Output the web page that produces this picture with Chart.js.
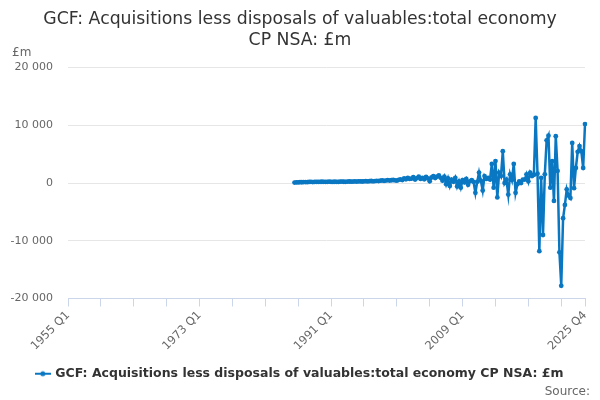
<!DOCTYPE html>
<html>
<head>
<meta charset="utf-8">
<script src="https://cdn.jsdelivr.net/npm/chart.js@4.4.1/dist/chart.umd.min.js"></script>
<style>
html,body{margin:0;padding:0;background:#fff;}
#wrap{width:600px;height:400px;}
</style>
</head>
<body>
<div id="wrap"><canvas id="c" width="600" height="400"></canvas></div>
<script>
// ---- data ----
const firstYear = 1955;
const lastYear = 2025;
const seriesStart = "1986 Q1";
const seriesName = "GCF: Acquisitions less disposals of valuables:total economy CP NSA: £m";
const titleLines = ["GCF: Acquisitions less disposals of valuables:total economy", "CP NSA: £m"];
const yTicks = [-20000, -10000, 0, 10000, 20000];
const xLabelShown = ["1955 Q1", "1973 Q1", "1991 Q1", "2009 Q1", "2025 Q4"];
const values = [
  80, 120, 100, 150, 130, 170, 160, 140, 180, 200, 170, 190, 210, 180, 200, 220,
  200, 190, 210, 230, 200, 180, 220, 210, 190, 230, 250, 220, 200, 240, 260, 230,
  250, 280, 240, 270, 300, 260, 290, 320, 280, 310, 350, 300, 330, 380, 340, 400,
  450, 380, 420, 500, 430, 480, 520, 460, 400, 550, 620, 500, 800, 650, 900, 700,
  750, 1000, 600, 850, 1100, 700, 900, 650, 1050, 800, 300, 950, 1200, 850, 1100, 1300,
  900, 400, 1100, -200, 800, -500, 600, 200, 900, -600, 300, -800, 500, 100, 700, -300,
  300, 500, 200, -1700, 200, 1800, 400, -1300, 1200, 700, 900, 600, 3300, -800, 3800, -2500,
  1800, 1200, 5500, 0, 600, -2000, 1500, 500, 3300, -1700, -200, 300, 0, 600, 600, 1500,
  300, 1800, 1200, 1400, 11260, 1600, -11800, 900, -9000, 1500, 7400, 8200, -800, 3800, -3100, 8100,
  2100, -12000, -17800, -6100, -3800, -1100, -2200, -2600, 6950, -900, 2600, 5400, 6400, 5500, 2600, 10200
];

// ---- build categories & aligned series ----
const categories = [];
for (let y = firstYear; y <= lastYear; y++) for (let q = 1; q <= 4; q++) categories.push(y + " Q" + q);
const startIdx = categories.indexOf(seriesStart);
const seriesData = categories.map((c, i) => (i >= startIdx && i - startIdx < values.length) ? values[i - startIdx] : null);

const BLUE = "#0a77c2";
const FONT = "'DejaVu Sans', sans-serif";

function fmt(v){
  const s = Math.abs(v).toString().replace(/\B(?=(\d{3})+(?!\d))/g, " ");
  return (v < 0 ? "-" : "") + s;
}

// legend marker: line with dot
const marker = document.createElement("canvas");
marker.width = 16; marker.height = 10;
(function(){
  const g = marker.getContext("2d");
  g.strokeStyle = BLUE; g.lineWidth = 2;
  g.beginPath(); g.moveTo(0,5); g.lineTo(16,5); g.stroke();
  g.fillStyle = BLUE; g.beginPath(); g.arc(8,5,2.5,0,Math.PI*2); g.fill();
})();

const extraText = {
  id: "extraText",
  afterDraw(chart){
    const ctx = chart.ctx;
    ctx.save();
    ctx.fillStyle = "#666666";
    ctx.font = "12px " + FONT;
    ctx.textBaseline = "middle";
    ctx.textAlign = "left";
    ctx.fillText("£m", 12, 53);
    ctx.textAlign = "right";
    ctx.fillText("Source:", 590, 392);
    ctx.restore();
  }
};

const lastIdx = categories.length - 1;
const shownIdx = xLabelShown.map(l => categories.indexOf(l));

new Chart(document.getElementById("c"), {
  type: "line",
  data: {
    labels: categories,
    datasets: [{
      label: seriesName,
      data: seriesData,
      borderColor: BLUE,
      backgroundColor: BLUE,
      borderWidth: 2.5,
      pointRadius: 2.4,
      pointHoverRadius: 2.4,
      pointBorderWidth: 0,
      pointBackgroundColor: BLUE,
      tension: 0,
      spanGaps: false,
      yAxisID: "y"
    }]
  },
  options: {
    responsive: false,
    animation: false,
    devicePixelRatio: 1,
    layout: { padding: { left: 0, right: 0, top: 0, bottom: 10 } },
    plugins: {
      title: {
        display: true,
        text: titleLines,
        color: "#333333",
        font: { family: FONT, size: 17.3, weight: "normal", lineHeight: 1.2 },
        padding: { top: 9, bottom: 17 }
      },
      legend: {
        display: true,
        position: "bottom",
        labels: {
          color: "#333333",
          font: { family: FONT, size: 12.5, weight: "bold" },
          usePointStyle: true,
          padding: 10,
          generateLabels(chart){
            return chart.data.datasets.map((d, i) => ({
              text: d.label, pointStyle: marker, fillStyle: BLUE, strokeStyle: BLUE,
              lineWidth: 0, hidden: false, datasetIndex: i, fontColor: "#333333"
            }));
          }
        }
      },
      tooltip: { enabled: false }
    },
    scales: {
      x: {
        type: "category",
        afterBuildTicks(scale){
          const t = [];
          for (let i = 0; i <= lastIdx; i += 18) t.push({ value: i });
          if (t[t.length-1].value !== lastIdx) t.push({ value: lastIdx });
          scale.ticks = t;
        },
        afterFit(scale){ scale.height = 59; },
        ticks: {
          autoSkip: false,
          maxRotation: 45,
          minRotation: 45,
          color: "#666666",
          font: { family: FONT, size: 11.5 },
          padding: 2,
          callback(value){ return shownIdx.includes(value) ? categories[value] : ""; }
        },
        grid: {
          display: true,
          drawOnChartArea: false,
          drawTicks: true,
          tickLength: 8,
          color: "#ccd6eb"
        },
        border: { display: true, color: "#ccd6eb", width: 1 }
      },
      y: {
        position: "left",
        min: -20000,
        max: 20000,
        afterBuildTicks(scale){ scale.ticks = yTicks.map(v => ({ value: v })); },
        afterFit(scale){ scale.width = 68; },
        ticks: {
          color: "#666666",
          font: { family: FONT, size: 11 },
          padding: 15,
          callback(v){ return fmt(v); }
        },
        grid: { color: "#e6e6e6", drawTicks: false, lineWidth: 1 },
        border: { display: false }
      },
      yRight: {
        position: "right",
        min: -20000,
        max: 20000,
        afterFit(scale){ scale.width = 15; },
        ticks: { display: false },
        grid: { display: false, drawTicks: false },
        border: { display: false }
      }
    }
  },
  plugins: [extraText]
});
</script>
</body>
</html>
